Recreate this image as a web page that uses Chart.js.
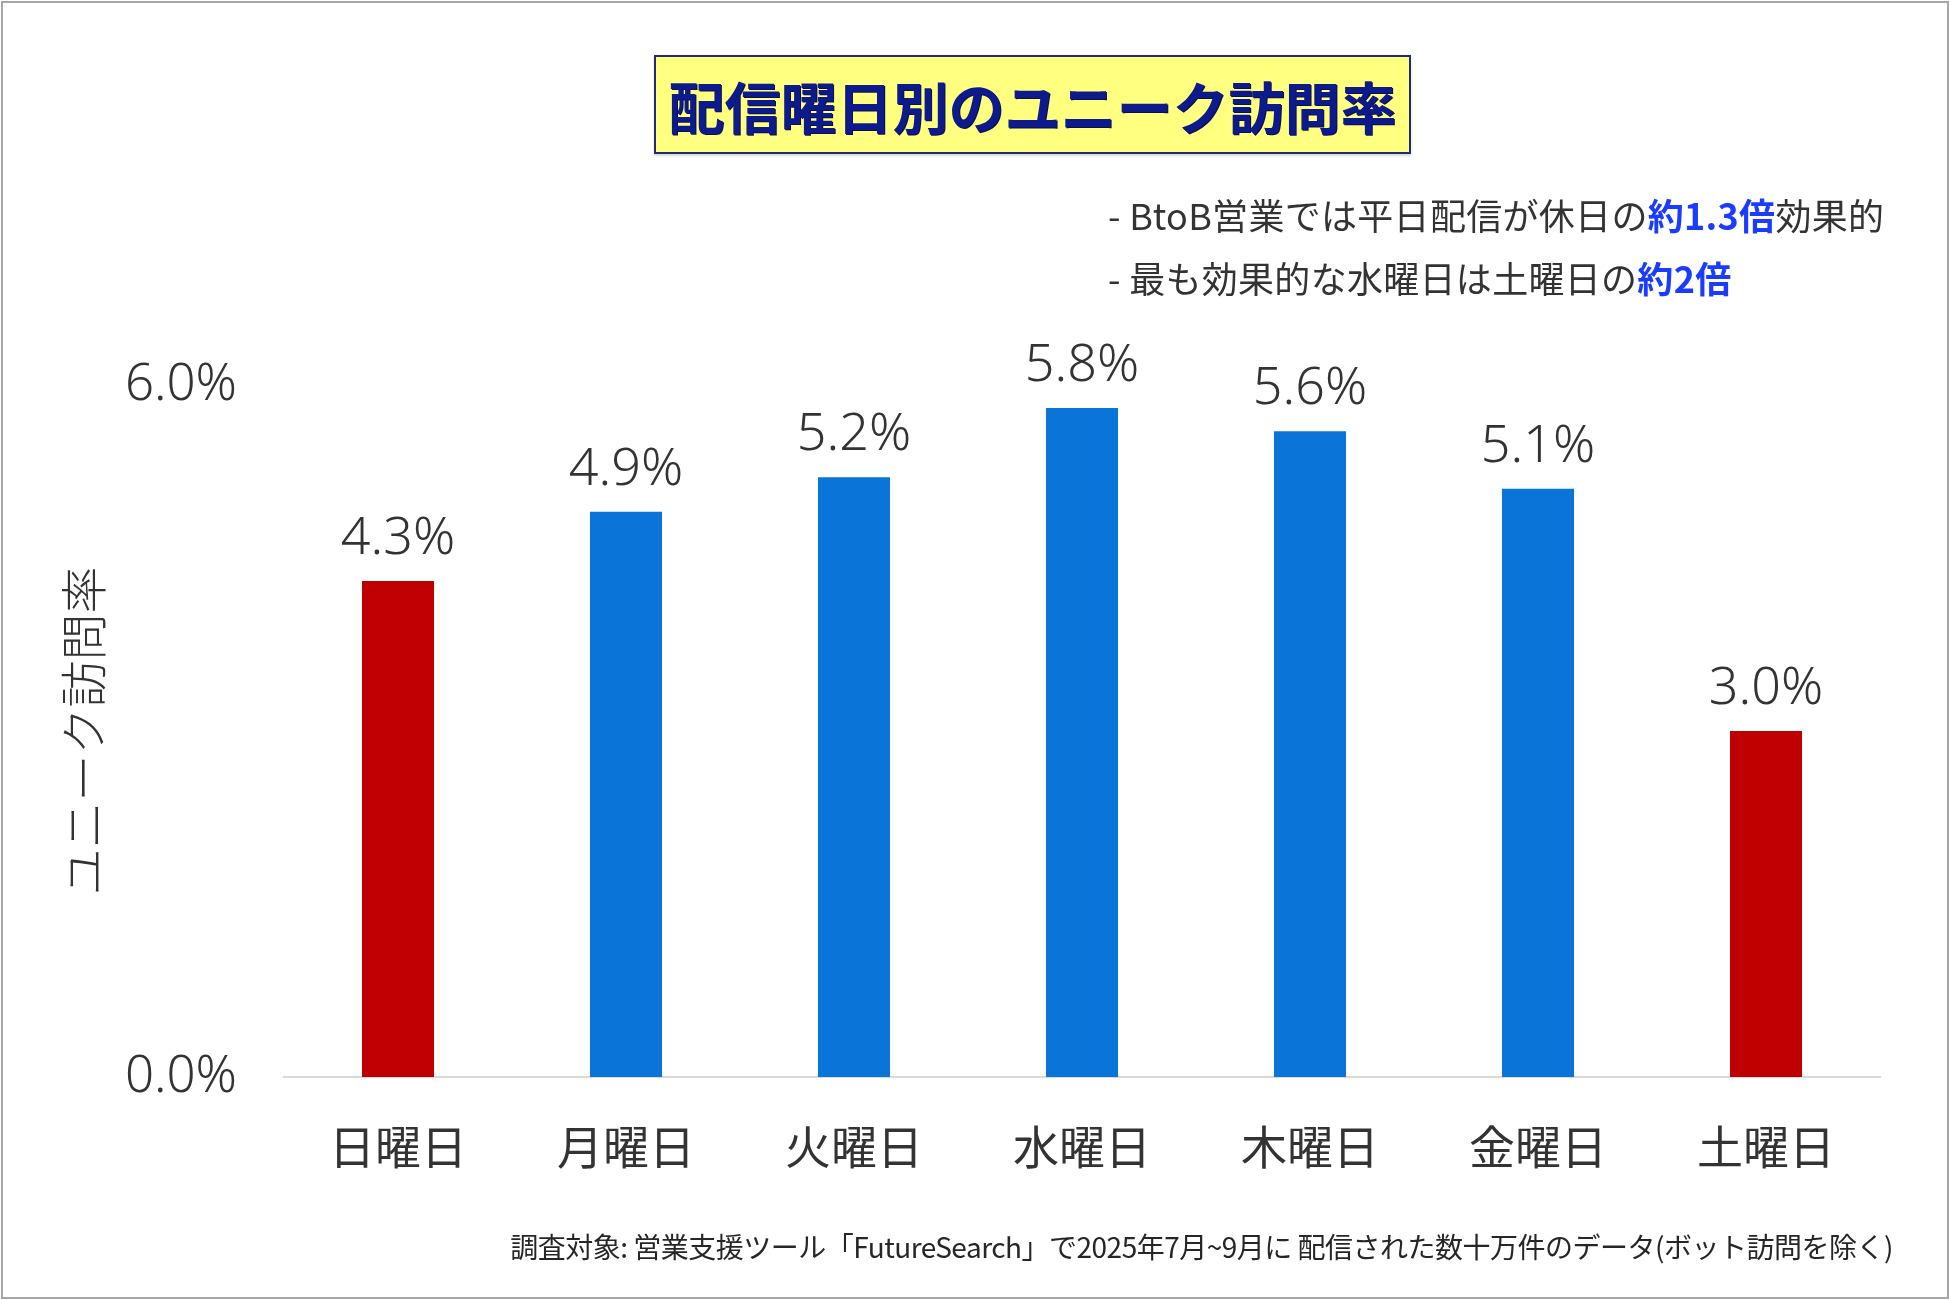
<!DOCTYPE html>
<html lang="ja">
<head>
<meta charset="utf-8">
<script src="https://cdn.jsdelivr.net/npm/chart.js@4.4.1/dist/chart.umd.min.js"></script>
<style>
  html, body { margin: 0; padding: 0; background: #fff; }
  #page { position: relative; width: 1950px; height: 1300px; overflow: hidden; font-family: "Noto Sans CJK JP", "Noto Sans", sans-serif; }
  #frame { position: absolute; left: 1px; top: 1px; width: 1944px; height: 1294px; border: 2px solid #a6a6a6; pointer-events: none; }
  #chart { position: absolute; left: 0; top: 0; }
  #title {
    position: absolute; left: 654px; top: 55px; width: 753px; height: 95px;
    background: #ffff80; border: 2px solid #1f2a7a;
    color: #0d1a8c; font-weight: 700; font-size: 56px; line-height: 95px; text-align: center;
    text-shadow: 1px 1px 0 #0a0f50;
    box-shadow: 0 2px 2px rgba(0,0,0,0.15);
  }
  .note { position: absolute; left: 1108px; font-size: 36px; letter-spacing: 0.3px; color: #333; white-space: nowrap; }
  .note b { color: #1a3cff; font-weight: 700; }
  #note1 { top: 188px; }
  #note2 { top: 251px; }
  #foot { position: absolute; right: 57px; top: 1226px; font-size: 28px; color: #262626; white-space: nowrap; letter-spacing: -0.5px; }
</style>
</head>
<body>
<div id="page">
  <canvas id="chart" width="1950" height="1300"></canvas>
  <div id="title">配信曜日別のユニーク訪問率</div>
  <div class="note" id="note1">- BtoB営業では平日配信が休日の<b>約1.3倍</b>効果的</div>
  <div class="note" id="note2">- 最も効果的な水曜日は土曜日の<b>約2倍</b></div>
  <div id="foot">調査対象: 営業支援ツール「FutureSearch」で2025年7月~9月に 配信された数十万件のデータ(ボット訪問を除く)</div>
  <div id="frame"></div>
</div>
<script>
const days = ['日曜日', '月曜日', '火曜日', '水曜日', '木曜日', '金曜日', '土曜日'];
const visitRate = [4.3, 4.9, 5.2, 5.8, 5.6, 5.1, 3.0];
const barColors = ['#c00000', '#0a74d8', '#0a74d8', '#0a74d8', '#0a74d8', '#0a74d8', '#c00000'];
const yTicks = [0, 6];
const yTitle = 'ユニーク訪問率';

const numFont = '"Noto Sans", "Noto Sans CJK JP", sans-serif';
const jpFont = '"Noto Sans CJK JP", "Noto Sans", sans-serif';

// value labels above each bar
const valueLabels = {
    id: 'valueLabels',
    afterDatasetsDraw(chart) {
        const ctx = chart.ctx;
        const meta = chart.getDatasetMeta(0);
        ctx.save();
        ctx.font = '300 52px ' + numFont;
        ctx.fillStyle = '#333333';
        ctx.textAlign = 'center';
        ctx.textBaseline = 'alphabetic';
        meta.data.forEach((bar, i) => {
            ctx.fillText(visitRate[i].toFixed(1) + '%', bar.x, bar.y - 27);
        });
        ctx.restore();
    }
};

new Chart(document.getElementById('chart'), {
    type: 'bar',
    data: {
        labels: days,
        datasets: [{
            data: visitRate,
            backgroundColor: barColors,
            borderWidth: 0,
            categoryPercentage: 1,
            barPercentage: 0.316
        }]
    },
    options: {
        responsive: false,
        animation: false,
        devicePixelRatio: 1,
        layout: { padding: { left: 0, top: 385, right: 70, bottom: 73 } },
        plugins: { legend: { display: false }, tooltip: { enabled: false } },
        scales: {
            x: {
                grid: { display: false },
                border: { display: true, color: '#d9d9d9', width: 2 },
                ticks: { color: '#333333', font: { family: jpFont, size: 46 }, padding: 34 },
                afterFit: s => { s.height = 150; }
            },
            y: {
                min: 0,
                max: 6,
                afterBuildTicks: s => { s.ticks = yTicks.map(v => ({ value: v })); },
                grid: { display: false, drawTicks: false },
                border: { display: false },
                ticks: {
                    color: '#333333',
                    padding: 47,
                    font: { family: numFont, size: 51, weight: '300' },
                    callback: v => v.toFixed(1) + '%'
                },
                title: {
                    display: true,
                    text: yTitle,
                    color: '#333333',
                    font: { family: jpFont, size: 47, weight: '300' },
                    padding: { top: 55, bottom: 0 }
                },
                afterFit: s => { s.width = 284; }
            }
        }
    },
    plugins: [valueLabels]
});
</script>
</body>
</html>
